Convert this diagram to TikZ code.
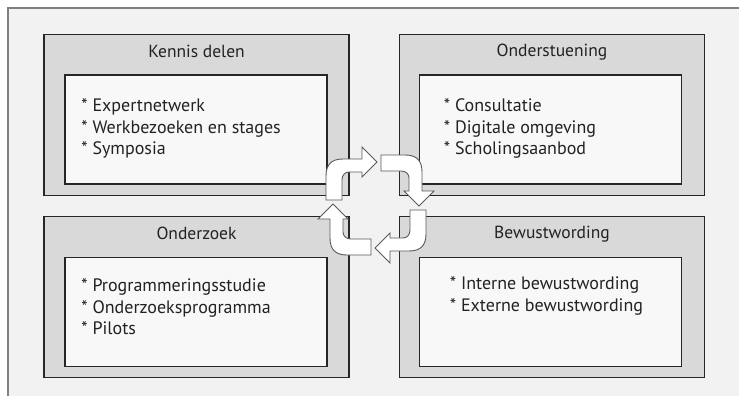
\documentclass[tikz,border=0pt]{standalone}
\usepackage{fontspec}
\setmainfont{PT Sans}
\definecolor{framebg}{HTML}{F2F2F2}
\definecolor{frameline}{HTML}{808080}
\definecolor{boxgrey}{HTML}{D9D9D9}
\definecolor{boxwhite}{HTML}{F8F8F8}
\definecolor{inkgrey}{HTML}{222222}
\begin{document}
\begin{tikzpicture}[x=1pt,y=-1pt,
    outerbox/.style={draw=black!85,line width=1.4pt,fill=boxgrey,minimum width=305pt,minimum height=161pt,inner sep=0pt},
    innerbox/.style={draw=black!85,line width=1.6pt,fill=boxwhite,minimum width=262pt,minimum height=109pt,inner sep=0pt},
    title/.style={text=inkgrey,font=\fontsize{17.5}{20}\selectfont,inner sep=0pt},
    items/.style={text=inkgrey,font=\fontsize{18}{21.5}\selectfont,align=left,anchor=west,inner sep=0pt},
    cyclearrow/.style={draw=black!65,line width=0.9pt,fill=white,line join=miter}]
    \useasboundingbox (0,0) rectangle (739,396);
    % frame
    \fill[white] (0,0) rectangle (739,396);
    \fill[framebg] (8,8) rectangle (739,396);
    \draw[frameline,line width=1.5pt] (739,8) -- (8,8) -- (8,396);
    % the four boxes
    \node[outerbox](kd) at (196.5,115){};
    \node[innerbox](kdin) at (196,129.5){};
    \node[title] at ([yshift=-18pt]kd.north){Kennis delen};
    \node[items] at ([xshift=17pt,yshift=1pt]kdin.west){* Expertnetwerk\\* Werkbezoeken en stages\\* Symposia};
    \node[outerbox](os) at (552,115){};
    \node[innerbox](osin) at (550.5,129.5){};
    \node[title] at ([yshift=-18pt]os.north){Onderstuening};
    \node[items] at ([xshift=25pt,yshift=1pt]osin.west){* Consultatie\\* Digitale omgeving\\* Scholingsaanbod};
    \node[outerbox](oz) at (196.5,297){};
    \node[innerbox](ozin) at (196,312){};
    \node[title] at ([yshift=-18pt]oz.north){Onderzoek};
    \node[items] at ([xshift=17pt,yshift=5pt]ozin.west){* Programmeringsstudie\\* Onderzoeksprogramma\\* Pilots};
    \node[outerbox](bw) at (552,297){};
    \node[innerbox](bwin) at (550.5,312){};
    \node[title] at ([yshift=-18pt]bw.north){Bewustwording};
    \node[items] at ([xshift=31pt,yshift=16pt]bwin.west){* Interne bewustwording\\* Externe bewustwording};
    % cycle arrows
    \coordinate (hub) at (376,205);
    \foreach \a in {0,-90,-180,-270}
        \draw[cyclearrow,rotate around={\a:(hub)}] (326,200) -- (326,176)
            .. controls (326,165) and (331,159) .. (343,159) -- (362,159) -- (362,147)
            -- (377,162) -- (362,177) -- (362,172) -- (349,172)
            .. controls (345,172) and (342,175) .. (342,180) -- (342,200) -- cycle;
\end{tikzpicture}
\end{document}
